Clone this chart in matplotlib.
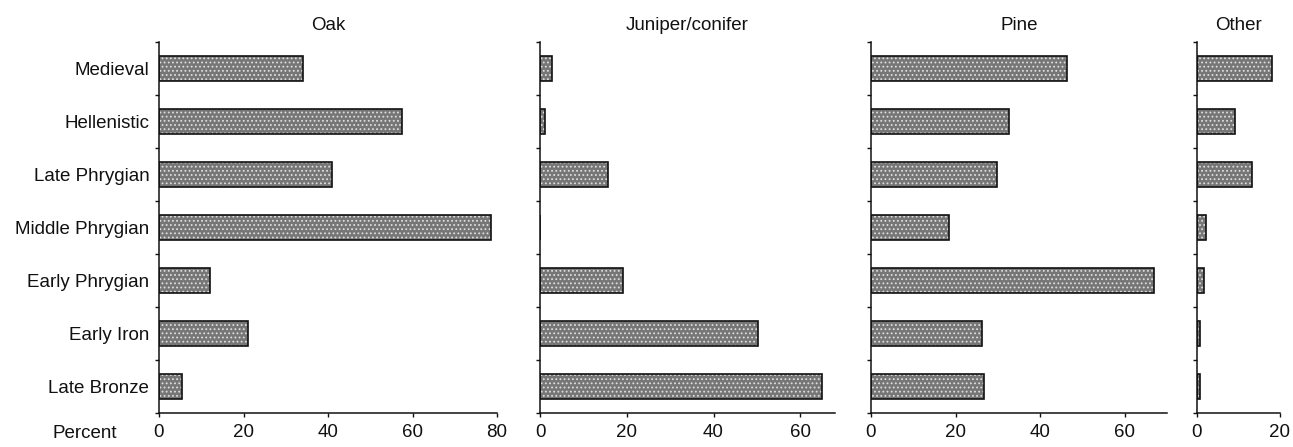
import matplotlib.pyplot as plt
import numpy as np

plt.rcParams['font.family'] = ['Liberation Sans', 'DejaVu Sans']
plt.rcParams['hatch.linewidth'] = 0.8

categories = ['Medieval', 'Hellenistic', 'Late Phrygian', 'Middle Phrygian',
              'Early Phrygian', 'Early Iron', 'Late Bronze']
titles = ['Oak', 'Juniper/conifer', 'Pine', 'Other']
oak = [34, 57.5, 41, 78.5, 12, 21, 5.4]
juniper = [2.8, 1.2, 15.7, 0, 19.2, 50.3, 65.1]
pine = [46.4, 32.7, 29.8, 18.5, 67, 26.3, 26.8]
other = [18, 9.2, 13.3, 2.2, 1.7, 0.8, 0.8]
xmax = [80, 68, 70, 20]
xticks = [[0, 20, 40, 60, 80], [0, 20, 40, 60], [0, 20, 40, 60], [0, 20]]

series = [oak, juniper, pine, other]
# axes boxes in pixels: left, width
boxes = [(159, 338), (540, 295), (871, 296), (1197, 83)]

W, H = 1293, 447
fig = plt.figure(figsize=(W / 100, H / 100), dpi=100)
bottom = (H - 413) / H
height = (413 - 42) / H
ypos = np.arange(len(categories))[::-1]

for i in range(4):
	left, width = boxes[i]
	ax = fig.add_axes([left / W, bottom, width / W, height])
	vals = series[i]
	ax.barh(ypos, vals, height=0.47, color='#767676', edgecolor='#dedede',
			hatch='....', linewidth=0)
	ax.barh(ypos, vals, height=0.47, color='none', edgecolor='#111111', linewidth=1.2)
	ax.set_xlim(0, xmax[i])
	ax.set_ylim(-0.5, len(categories) - 0.5)
	for s in ['top', 'right']:
		ax.spines[s].set_visible(False)
	for s in ['left', 'bottom']:
		ax.spines[s].set_linewidth(1.1)
		ax.spines[s].set_color('#111111')
	ax.set_xticks(xticks[i])
	ax.tick_params(axis='x', length=3, width=1, pad=5, labelsize=13.5, colors='#111111')
	ax.set_yticks(ypos)
	ax.set_yticks(np.arange(-0.5, len(categories)), minor=True)
	ax.tick_params(axis='y', which='major', length=0, pad=7, labelsize=13.5, colors='#111111')
	ax.tick_params(axis='y', which='minor', length=3, width=1, color='#111111')
	if i == 0:
		ax.set_yticklabels(categories)
	else:
		ax.set_yticklabels([])
	ax.set_title(titles[i], fontsize=13.5, pad=9, color='#111111')

fig.text(85 / W, 1 - 433 / H, 'Percent', ha='center', va='center', fontsize=13.5, color='#111111')

fig.savefig('out.png', dpi=100)
